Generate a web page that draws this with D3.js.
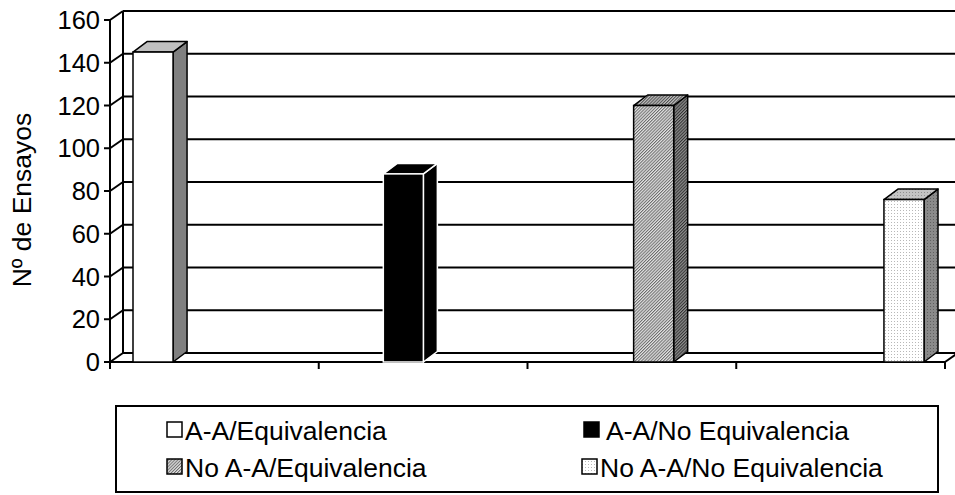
<!DOCTYPE html>
<html>
<head>
<meta charset="utf-8">
<script src="https://cdn.jsdelivr.net/npm/d3@7"></script>
<style>
  body { margin: 0; background: #fff; }
  text { font-family: "Liberation Sans", Arial, sans-serif; fill: #000; }
</style>
</head>
<body>
<svg id="chart" width="955" height="495"></svg>
<script>
// data
const series = ["A-A/Equivalencia", "A-A/No Equivalencia", "No A-A/Equivalencia", "No A-A/No Equivalencia"];
const values = [145, 88, 120, 76];
const yTicks = [0, 20, 40, 60, 80, 100, 120, 140, 160];
const yTitle = "Nº de Ensayos";

const svg = d3.select("#chart");
const x0 = 110, x1 = 945;          // front plane of the floor
const dx = 13, dy = 9;             // depth offset of back wall
const bdx = 14, bdy = 10.5;        // depth offset of bar tops

const y = d3.scaleLinear().domain([0, 160]).range([362, 20]);
const xBar = d3.scaleBand().domain(series).range([133, 924]).paddingInner(0.84).paddingOuter(0);
const xCat = d3.scaleLinear().domain([0, 4]).range([x0, x1]);

// patterns
const defs = svg.append("defs");
function hatch(id, bg, fg) {
  const p = defs.append("pattern").attr("id", id).attr("patternUnits", "userSpaceOnUse")
    .attr("width", 2.2).attr("height", 2.2).attr("patternTransform", "rotate(45)");
  p.append("rect").attr("width", 2.2).attr("height", 2.2).attr("fill", bg);
  p.append("rect").attr("width", 1).attr("height", 2.2).attr("fill", fg);
}
function dots(id, bg, fg) {
  const p = defs.append("pattern").attr("id", id).attr("patternUnits", "userSpaceOnUse")
    .attr("width", 3).attr("height", 3);
  p.append("rect").attr("width", 3).attr("height", 3).attr("fill", bg);
  p.append("rect").attr("width", 1).attr("height", 1).attr("fill", fg);
}
hatch("hatchFront", "#e4e4e4", "#6a6a6a");
hatch("hatchSide", "#909090", "#303030");
hatch("hatchTop", "#c0c0c0", "#505050");
dots("dotFront", "#ffffff", "#b8b8b8");
dots("dotSide", "#8a8a8a", "#606060");
dots("dotTop", "#c4c4c4", "#909090");

const styles = [
  { front: "#ffffff", side: "#808080", top: "#c0c0c0", stroke: "#000" },
  { front: "#000000", side: "#000000", top: "#000000", stroke: "#fff" },
  { front: "url(#hatchFront)", side: "url(#hatchSide)", top: "url(#hatchTop)", stroke: "#000" },
  { front: "url(#dotFront)", side: "url(#dotSide)", top: "url(#dotTop)", stroke: "#000" }
];

const frame = svg.append("g").attr("stroke", "#000").attr("fill", "none").attr("stroke-width", 2);

// back wall gridlines
frame.selectAll(".grid").data(yTicks).join("line")
  .attr("x1", x0 + dx).attr("x2", x1 + dx)
  .attr("y1", d => y(d) - dy).attr("y2", d => y(d) - dy);
// left side wall diagonals
frame.selectAll(".diag").data(yTicks).join("line")
  .attr("x1", x0).attr("y1", d => y(d)).attr("x2", x0 + dx).attr("y2", d => y(d) - dy);
// back wall left edge
frame.append("line").attr("x1", x0 + dx).attr("x2", x0 + dx).attr("y1", y(0) - dy).attr("y2", y(160) - dy);
// front axis and ticks
frame.append("line").attr("x1", x0).attr("x2", x0).attr("y1", y(160)).attr("y2", y(0) + 7);
frame.selectAll(".ytick").data(yTicks).join("line")
  .attr("x1", x0 - 6).attr("x2", x0).attr("y1", d => y(d)).attr("y2", d => y(d));
// floor front edge, right diagonal, x ticks
frame.append("line").attr("x1", x0).attr("x2", x1).attr("y1", y(0)).attr("y2", y(0));
frame.append("line").attr("x1", x1).attr("y1", y(0)).attr("x2", x1 + dx).attr("y2", y(0) - dy);
frame.selectAll(".xtick").data(d3.range(1, 5)).join("line")
  .attr("x1", d => xCat(d)).attr("x2", d => xCat(d)).attr("y1", y(0)).attr("y2", y(0) + 7);

// bars
const bars = svg.append("g").selectAll("g").data(series).join("g");
bars.each(function(s, i) {
  const g = d3.select(this);
  const st = styles[i];
  const l = xBar(s), r = l + xBar.bandwidth();
  const t = y(values[i]), b = y(0);
  g.append("path")
    .attr("d", `M${r},${t}L${r + bdx},${t - bdy}L${r + bdx},${b - bdy}L${r},${b}Z`)
    .attr("fill", st.side).attr("stroke", st.stroke).attr("stroke-width", 1.5).attr("stroke-linejoin", "round");
  g.append("path")
    .attr("d", `M${l},${t}L${l + bdx},${t - bdy}L${r + bdx},${t - bdy}L${r},${t}Z`)
    .attr("fill", st.top).attr("stroke", st.stroke).attr("stroke-width", 1.5).attr("stroke-linejoin", "round");
  g.append("rect").attr("x", l).attr("y", t).attr("width", r - l).attr("height", b - t)
    .attr("fill", st.front).attr("stroke", st.stroke).attr("stroke-width", 1.5);
});

// y tick labels
svg.append("g").selectAll("text").data(yTicks).join("text")
  .attr("x", x0 - 10).attr("y", d => y(d)).attr("dy", "0.36em")
  .attr("text-anchor", "end").attr("font-size", 25.5)
  .text(d => d);

// y title
svg.append("text")
  .attr("transform", `translate(31,200) rotate(-90)`)
  .attr("text-anchor", "middle").attr("font-size", 26.5)
  .text(yTitle);

// legend
const legend = svg.append("g");
legend.append("rect").attr("x", 116).attr("y", 406).attr("width", 822).attr("height", 86)
  .attr("fill", "#fff").attr("stroke", "#000").attr("stroke-width", 2);
const legPos = [[167, 430], [584, 430], [167, 467], [582, 467]];
const items = legend.selectAll("g").data(series).join("g")
  .attr("transform", (d, i) => `translate(${legPos[i][0]},${legPos[i][1]})`);
items.append("rect").attr("x", 0).attr("y", -8).attr("width", 15).attr("height", 15)
  .attr("fill", (d, i) => styles[i].front).attr("stroke", "#000").attr("stroke-width", 1.5);
items.append("text").attr("x", (d, i) => i === 1 ? 22 : 18).attr("y", 0).attr("dy", "0.36em")
  .attr("font-size", 26.5).text(d => d);
</script>
</body>
</html>
